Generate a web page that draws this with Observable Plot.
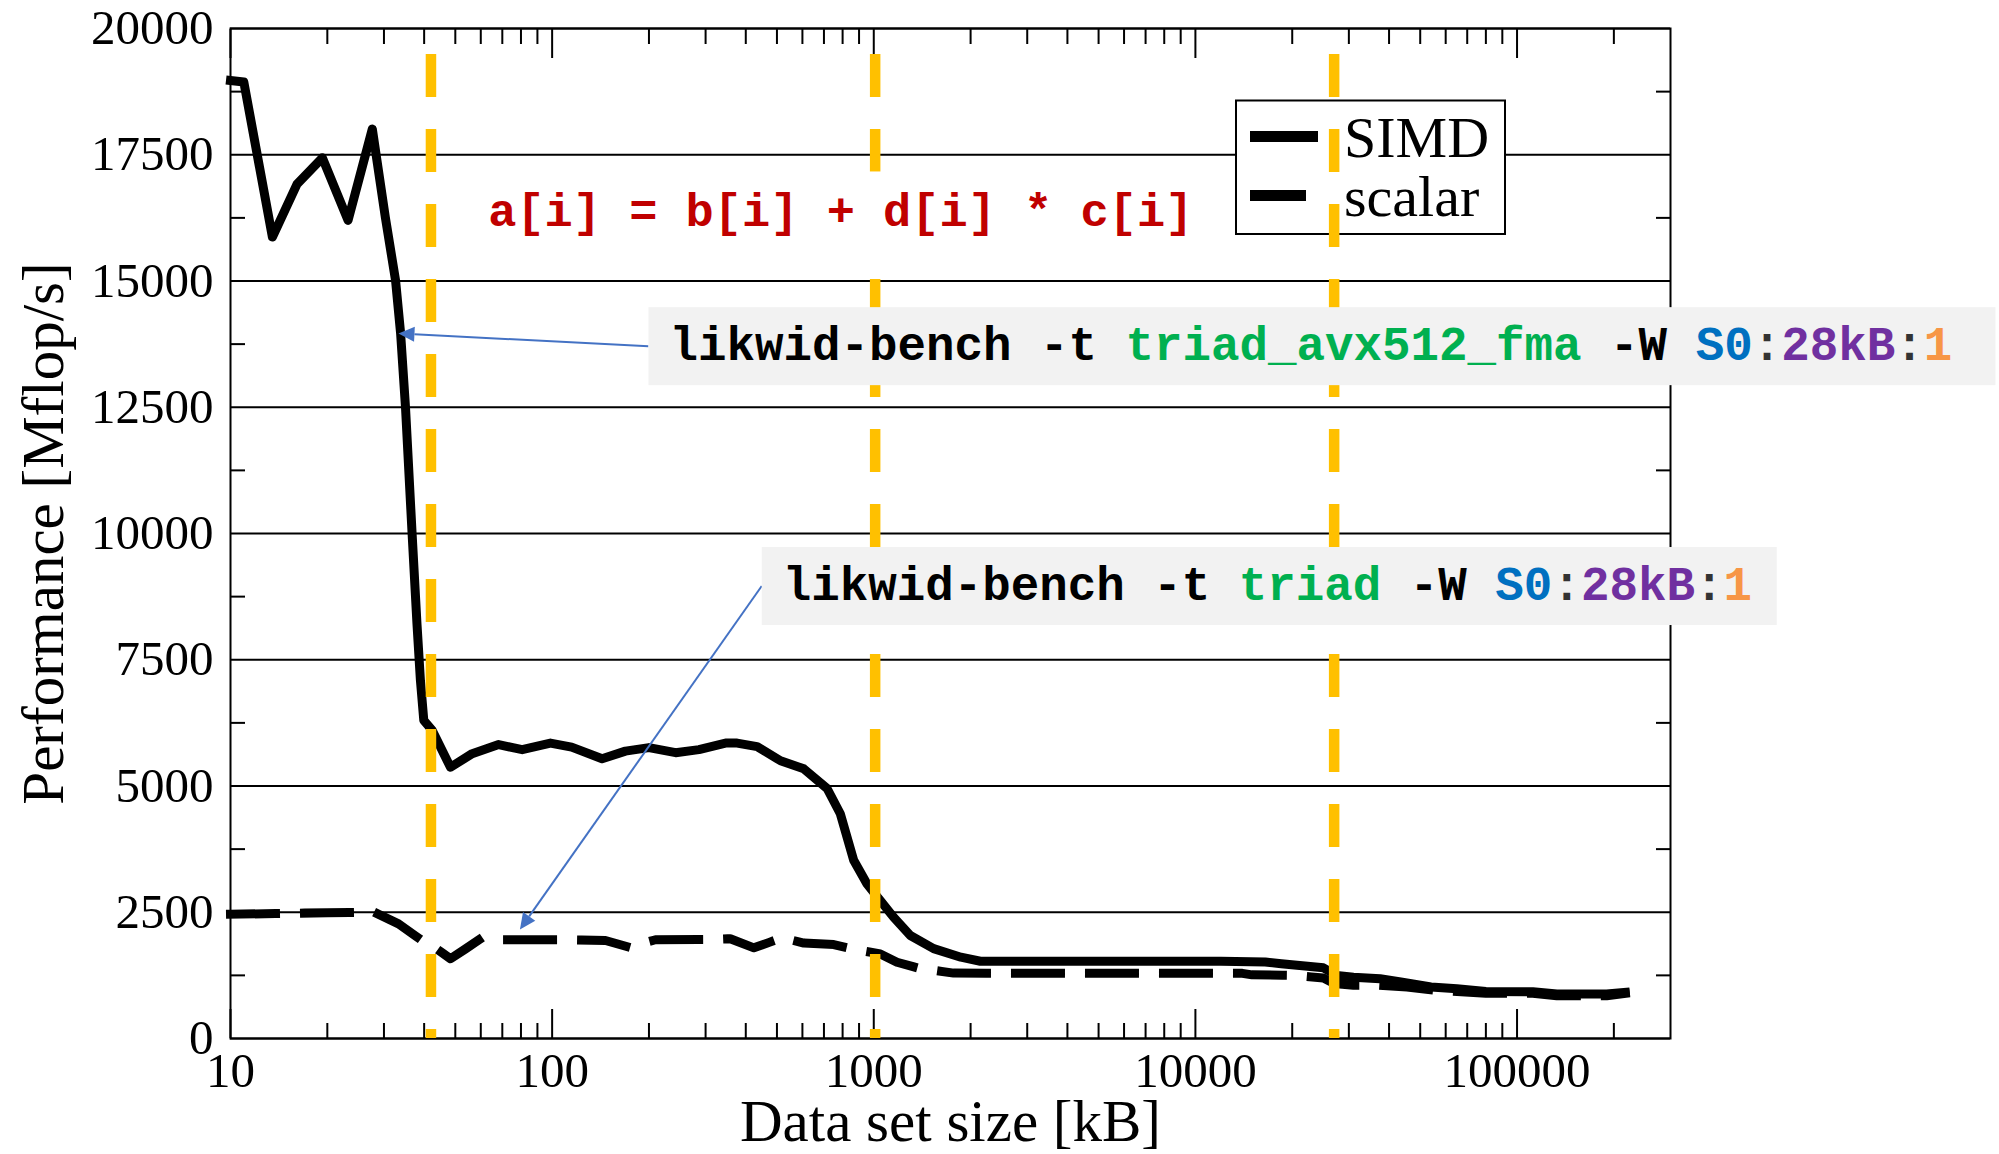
<!DOCTYPE html>
<html>
<head>
<meta charset="utf-8">
<script src="https://cdn.jsdelivr.net/npm/d3@7"></script>
<script src="https://cdn.jsdelivr.net/npm/@observablehq/plot@0.6"></script>
<style>
  html, body { margin: 0; padding: 0; background: #fff; }
  #chart svg { display: block; }
</style>
</head>
<body>
<div id="chart"></div>
<script>
// Stream triad benchmark: performance against working-set size (log x axis)

// SIMD (AVX-512 FMA) kernel
const simdSize = [10, 11.0, 13.5, 16.1, 19.3, 23.2, 27.6, 30.3, 32.6, 33.8, 35.0, 36.7, 38.0, 38.95, 39.9,
  42.4, 48.3, 56.4, 68.2, 80.7, 98.8, 115, 143, 169, 200, 242, 286, 346, 376, 434, 513, 606, 716, 787,
  866, 953, 1048, 1153, 1299, 1535, 1866, 2145, 12000, 16500, 18500, 21500, 25000, 27500, 31000,
  37500, 43500, 54000, 65000, 80000, 112000, 133000, 190000, 217000];
const simdPerf = [18970, 18940, 15870, 16920, 17440, 16200, 18010, 16260, 15010, 13960, 12500, 9990, 8210, 7090, 6300,
  6100, 5370, 5640, 5820, 5720, 5850, 5770, 5540, 5690, 5760, 5660, 5720, 5850, 5850, 5780, 5500, 5340, 4950, 4450,
  3530, 3060, 2730, 2400, 2040, 1780, 1610, 1530, 1530, 1515, 1480, 1440, 1400, 1250, 1215,
  1185, 1120, 1020, 985, 930, 925, 880, 880, 915];

// scalar kernel
const scalarSize = [10, 20, 27, 28.2, 33.3, 39.4, 44.4, 48.3, 53.8, 59.2, 107, 146.5, 173, 209.5, 310, 358, 424,
  519, 606, 751, 887, 1048, 1181, 1363, 1771, 14000, 15000, 20500, 22000, 25000, 27000, 31000, 37500, 45500,
  55600, 80000, 112000, 133000, 190000, 217000];
const scalarPerf = [2460, 2490, 2500, 2490, 2270, 1940, 1745, 1580, 1775, 1955, 1955, 1940, 1810, 1955, 1960, 1975, 1795,
  1995, 1890, 1860, 1755, 1675, 1510, 1400, 1295, 1290, 1260, 1250, 1230, 1200, 1090, 1055, 1055, 1020,
  955, 895, 895, 845, 845, 895];

// cache-size markers [kB]
const cacheMarks = [42, 1010, 27000];

// axes
const yTicks = [0, 2500, 5000, 7500, 10000, 12500, 15000, 17500, 20000];
const yMinorTicks = yTicks.slice(0, -1).map(d => d + 1250);
const xTicks = [10, 100, 1000, 10000, 100000];
const xMinorTicks = xTicks.flatMap(d => [2, 3, 4, 5, 6, 7, 8, 9].map(k => k * d)).filter(v => v < 300000);
const xTitle = "Data set size [kB]";
const yTitle = "Performance [Mflop/s]";
const seriesNames = ["SIMD", "scalar"];
const formula = "a[i] = b[i] + d[i] * c[i]";

const simdRows = simdSize.map((s, i) => ({size: s, perf: simdPerf[i]}));
const scalarRows = scalarSize.map((s, i) => ({size: s, perf: scalarPerf[i]}));

const serif = "'Liberation Serif', 'Times New Roman', serif";
const mono = "'Liberation Mono', 'Courier New', monospace";
const monoSize = 47.5;
const arrowColor = "#4472C4";
const ink = "#000", green = "#00B050", blue = "#0070C0", purple = "#7030A0", orange = "#F79646", colon = "#333";

const cmdSimd = [["likwid-bench -t ", ink], ["triad_avx512_fma", green], [" -W ", ink], ["S0", blue], [":", colon], ["28kB", purple], [":", colon], ["1", orange]];
const cmdScalar = [["likwid-bench -t ", ink], ["triad", green], [" -W ", ink], ["S0", blue], [":", colon], ["28kB", purple], [":", colon], ["1", orange]];

// grey command box with an arrow pointing at a spot on a curve
function callout({anchor, target, parts, boxWidth}) {
  return (index, {x, y}) => {
    const g = d3.create("svg:g");
    const x0 = x(anchor[0]), y0 = y(anchor[1]);
    const x1 = x(target[0]), y1 = y(target[1]);
    const ang = Math.atan2(y1 - y0, x1 - x0);
    const head = 16, half = 7.5;
    const bx = x1 - head * Math.cos(ang), by = y1 - head * Math.sin(ang);
    g.append("line").attr("x1", x0).attr("y1", y0).attr("x2", bx).attr("y2", by)
      .attr("stroke", arrowColor).attr("stroke-width", 2);
    g.append("path")
      .attr("d", `M${x1},${y1}L${bx - half * Math.sin(ang)},${by + half * Math.cos(ang)}L${bx + half * Math.sin(ang)},${by - half * Math.cos(ang)}Z`)
      .attr("fill", arrowColor);
    g.append("rect").attr("x", x0).attr("y", y0 - 39).attr("width", boxWidth).attr("height", 78).attr("fill", "#f2f2f2");
    const t = g.append("text").attr("x", x0 + 21).attr("y", y0 + 13.5)
      .attr("text-anchor", "start")
      .attr("font-family", mono).attr("font-weight", "bold").attr("font-size", monoSize)
      .attr("xml:space", "preserve").style("white-space", "pre");
    for (const [s, c] of parts) t.append("tspan").attr("fill", c).text(s);
    return g.node();
  };
}

// kernel formula on a white backing
function formulaLabel(anchor) {
  return (index, {x, y}) => {
    const g = d3.create("svg:g");
    const px = x(anchor[0]), py = y(anchor[1]);
    g.append("rect").attr("x", px - 18).attr("y", py - 55).attr("width", 740).attr("height", 80).attr("fill", "#fff");
    g.append("text").attr("x", px).attr("y", py)
      .attr("text-anchor", "start")
      .attr("font-family", mono).attr("font-weight", "bold").attr("font-size", 47)
      .attr("fill", "#C00000").attr("xml:space", "preserve").style("white-space", "pre")
      .text(formula);
    return g.node();
  };
}

// boxed legend in the upper right of the frame
function legend(index, scales, values, {width, marginRight, marginTop}) {
  const g = d3.create("svg:g");
  const bx = width - marginRight - 434, by = marginTop + 72.5;
  g.append("rect").attr("x", bx).attr("y", by).attr("width", 269).attr("height", 133.5)
    .attr("fill", "#fff").attr("stroke", "#000").attr("stroke-width", 2);
  const sampleLen = [68, 56];
  seriesNames.forEach((name, i) => {
    const yy = by + 36 + i * 59;
    g.append("line").attr("x1", bx + 14).attr("x2", bx + 14 + sampleLen[i]).attr("y1", yy).attr("y2", yy)
      .attr("stroke", "#000").attr("stroke-width", 11);
    g.append("text").attr("x", bx + 108).attr("y", yy + 20).attr("text-anchor", "start")
      .attr("font-family", serif).attr("font-size", 58).attr("fill", "#000").text(name);
  });
  return g.node();
}

const tickStyle = {fill: "none", strokeWidth: 2, stroke: "#000", label: null};
const labelStyle = {tickSize: 0, fontSize: 49, fontFamily: serif, fill: "#000", label: null, tickFormat: d => String(d)};

const chart = Plot.plot({
  width: 1999,
  height: 1154,
  marginLeft: 230,
  marginRight: 329,
  marginTop: 28,
  marginBottom: 116,
  x: {type: "log", domain: [10, 300000]},
  y: {domain: [0, 20000]},
  style: {fontFamily: serif, background: "#fff", color: "#000"},
  marks: [
    Plot.gridY(yTicks, {stroke: "#000", strokeOpacity: 1, strokeWidth: 2}),
    Plot.axisY(yMinorTicks, {anchor: "left", tickSize: -15, ...tickStyle}),
    Plot.axisY(yMinorTicks, {anchor: "right", tickSize: -15, ...tickStyle}),
    Plot.axisX(xMinorTicks, {anchor: "bottom", tickSize: -15, ...tickStyle}),
    Plot.axisX(xMinorTicks, {anchor: "top", tickSize: -15, ...tickStyle}),
    Plot.axisX(xTicks, {anchor: "bottom", tickSize: -29, ...tickStyle}),
    Plot.axisX(xTicks, {anchor: "top", tickSize: -29, ...tickStyle}),
    Plot.axisY(yTicks, {anchor: "left", tickPadding: 17, ...labelStyle}),
    Plot.axisX(xTicks, {anchor: "bottom", tickPadding: 14, ...labelStyle}),
    Plot.line(scalarRows, {x: "size", y: "perf", stroke: "#000", strokeWidth: 9,
      strokeLinecap: "square", strokeLinejoin: "round", strokeDasharray: "45,29"}),
    Plot.line(simdRows, {x: "size", y: "perf", stroke: "#000", strokeWidth: 9,
      strokeLinecap: "square", strokeLinejoin: "round"}),
    Plot.frame({stroke: "#000", strokeWidth: 2}),
    legend,
    Plot.ruleX(cacheMarks, {x: d => d, stroke: "#FFC000", strokeWidth: 10.5,
      strokeDasharray: "43,32", strokeDashoffset: 49}),
    formulaLabel([63.5, 16070]),
    callout({anchor: [200, 13700], target: [33.4, 13950], parts: cmdSimd, boxWidth: 1347}),
    callout({anchor: [450, 8950], target: [79.7, 2150], parts: cmdScalar, boxWidth: 1015}),
    Plot.text([xTitle], {frameAnchor: "bottom", dy: 102, lineAnchor: "bottom", textAnchor: "middle",
      fontSize: 59, fontFamily: serif, fill: "#000"}),
    Plot.text([yTitle], {frameAnchor: "left", rotate: -90, dx: -168, lineAnchor: "bottom", textAnchor: "middle",
      fontSize: 59, fontFamily: serif, fill: "#000"})
  ]
});

document.getElementById("chart").append(chart);
</script>
</body>
</html>
